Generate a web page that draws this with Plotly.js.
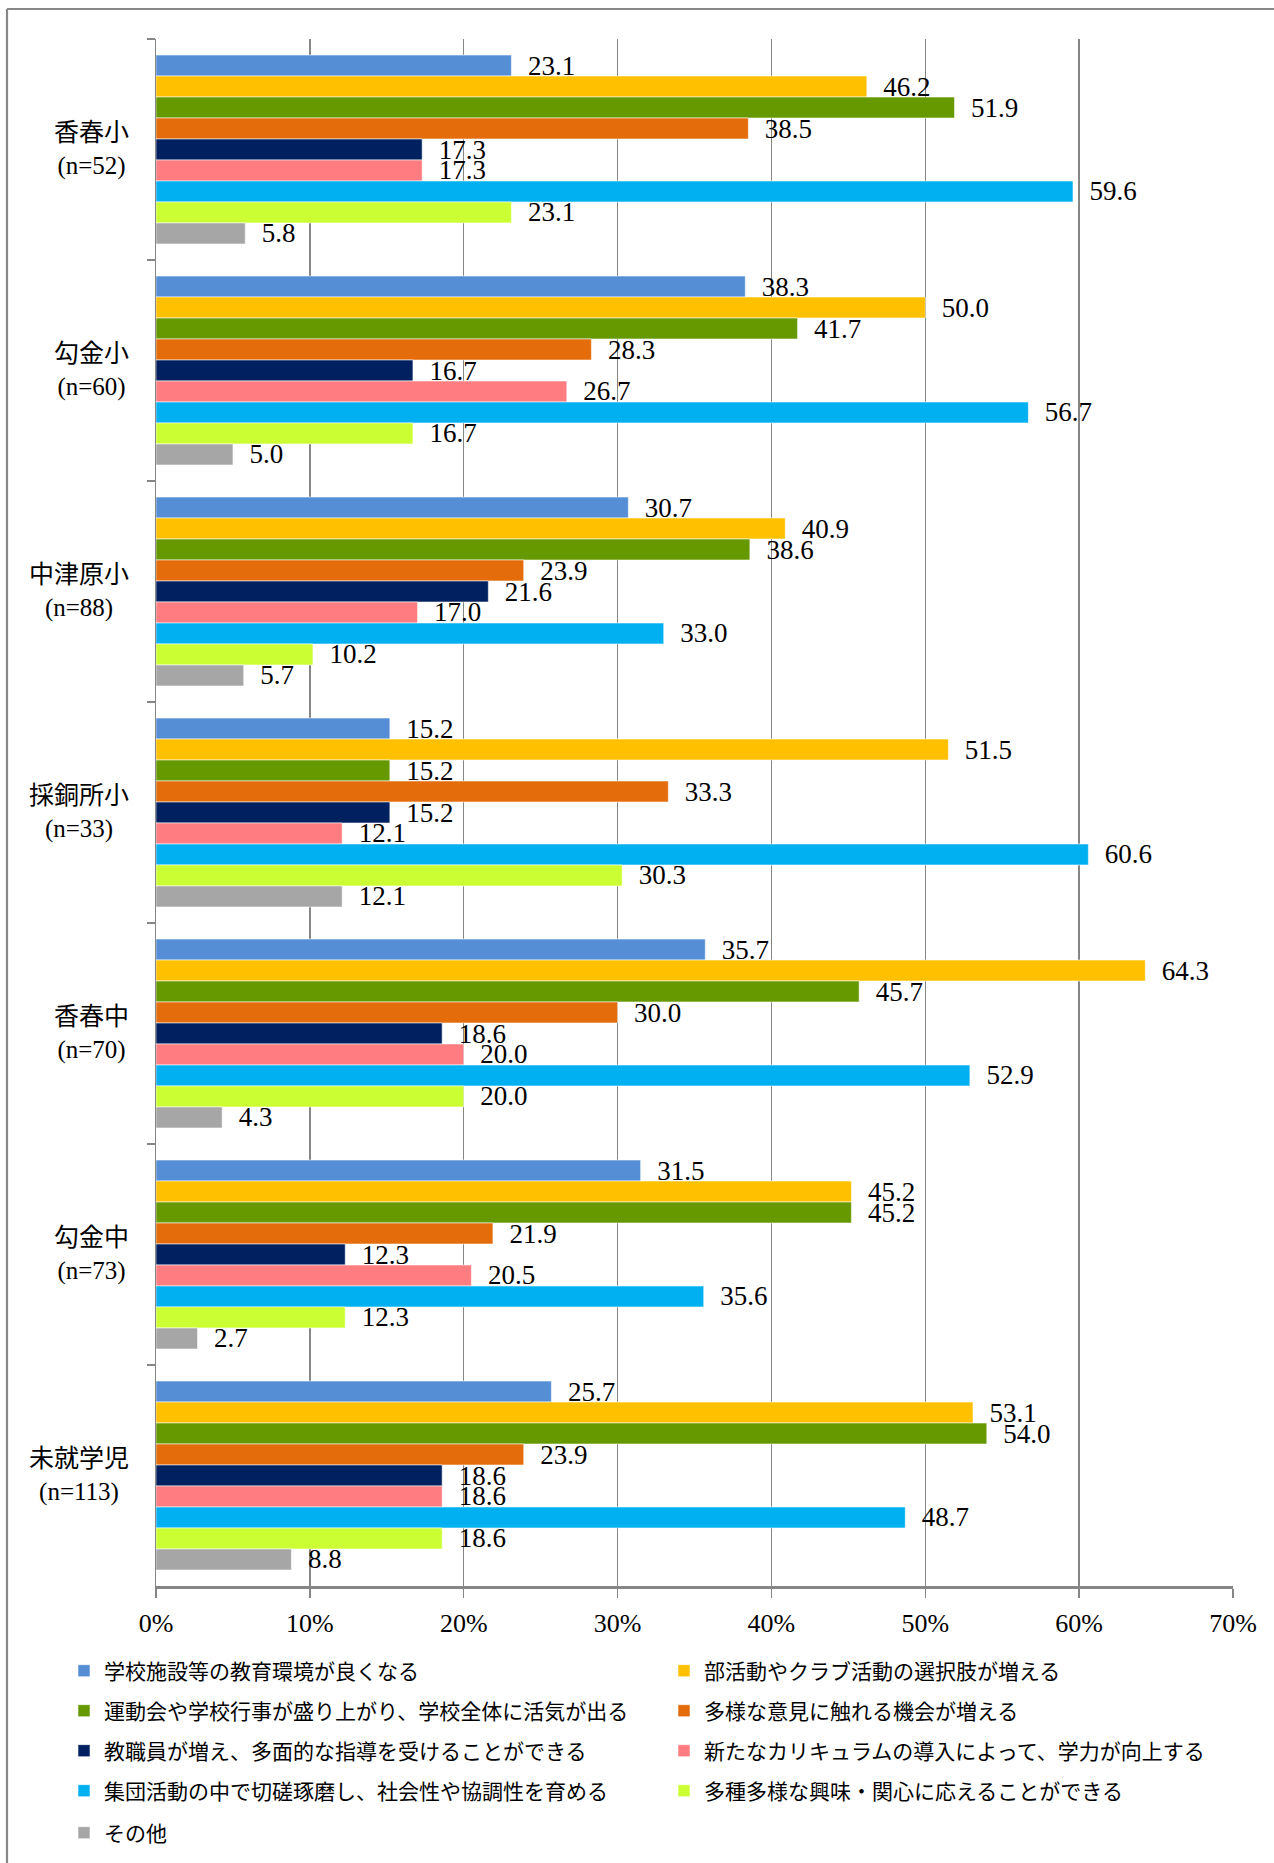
<!DOCTYPE html>
<html><head><meta charset="utf-8">
<script src="https://cdn.plot.ly/plotly-3.0.1.min.js"></script>
<style>html,body{margin:0;padding:0;background:#fff}#chart{width:1274px;height:1863px}</style>
</head><body><div id="chart"></div>
<script>
// ---- data ----
const schools = ['香春小','勾金小','中津原小','採銅所小','香春中','勾金中','未就学児'];
const sampleSizes = ['(n=52)','(n=60)','(n=88)','(n=33)','(n=70)','(n=73)','(n=113)'];
const seriesNames = [
  '学校施設等の教育環境が良くなる',
  '部活動やクラブ活動の選択肢が増える',
  '運動会や学校行事が盛り上がり、学校全体に活気が出る',
  '多様な意見に触れる機会が増える',
  '教職員が増え、多面的な指導を受けることができる',
  '新たなカリキュラムの導入によって、学力が向上する',
  '集団活動の中で切磋琢磨し、社会性や協調性を育める',
  '多種多様な興味・関心に応えることができる',
  'その他'
];
const facilities   = [23.1, 38.3, 30.7, 15.2, 35.7, 31.5, 25.7];
const clubs        = [46.2, 50.0, 40.9, 51.5, 64.3, 45.2, 53.1];
const events       = [51.9, 41.7, 38.6, 15.2, 45.7, 45.2, 54.0];
const opinions     = [38.5, 28.3, 23.9, 33.3, 30.0, 21.9, 23.9];
const staff        = [17.3, 16.7, 21.6, 15.2, 18.6, 12.3, 18.6];
const curriculum   = [17.3, 26.7, 17.0, 12.1, 20.0, 20.5, 18.6];
const groupActs    = [59.6, 56.7, 33.0, 60.6, 52.9, 35.6, 48.7];
const interests    = [23.1, 16.7, 10.2, 30.3, 20.0, 12.3, 18.6];
const others       = [5.8, 5.0, 5.7, 12.1, 4.3, 2.7, 8.8];
const seriesValues = [facilities, clubs, events, opinions, staff, curriculum, groupActs, interests, others];
const seriesColors = ['#558ED5','#FFC000','#669900','#E46C0A','#002060','#FF7C80','#00B0F0','#CCFF33','#A6A6A6'];
const xTicks = [0,10,20,30,40,50,60,70];

// ---- geometry ----
const W = 1274, H = 1863, ML = 156, MR = 41, MT = 39, MB = 277;
const PW = W - ML - MR, PH = H - MT - MB;
const px = x => (x - ML) / PW;
const py = y => (H - MB - y) / PH;

const catKeys = schools.map((s, i) => s + ' ' + sampleSizes[i]);
const serif = 'Liberation Serif, Times New Roman, serif';
const cjk = 'Noto Sans CJK JP, sans-serif';

const traces = seriesValues.map((vals, j) => ({
  type: 'bar',
  orientation: 'h',
  name: seriesNames[j],
  x: vals,
  y: catKeys,
  marker: {color: seriesColors[j], line: {color: 'rgba(255,255,255,0.55)', width: 1}},
  text: vals.map(v => v.toFixed(1)),
  texttemplate: '\u00a0\u00a0%{text}',
  textposition: 'outside',
  constraintext: 'none',
  cliponaxis: false,
  textfont: {family: serif, size: 27, color: '#000'},
  hoverinfo: 'skip',
  legend: j < 2 ? 'legend' : 'legend' + (Math.floor(j / 2) + 1)
}));

const rowY = [1671, 1711, 1751, 1791, 1833];
const legendBase = {
  orientation: 'h', x: px(64), xanchor: 'left', yanchor: 'middle',
  font: {family: cjk, size: 21, color: '#000'},
  entrywidth: 555, entrywidthmode: 'pixels',
  bgcolor: 'rgba(0,0,0,0)', borderwidth: 0, traceorder: 'normal'
};
const layout = {
  width: W, height: H,
  margin: {l: ML, r: MR, t: MT, b: MB, pad: 0, autoexpand: false},
  paper_bgcolor: '#fff', plot_bgcolor: '#fff',
  barmode: 'group', bargap: 0.145, bargroupgap: 0,
  showlegend: true,
  xaxis: {
    range: [0, 70], tickvals: xTicks, ticktext: xTicks.map(v => v + '%'),
    showgrid: true, gridcolor: '#868686', gridwidth: 1.3,
    showline: true, linecolor: '#868686', linewidth: 2.5,
    ticks: 'outside', ticklen: 9, tickcolor: '#868686', tickwidth: 1.3,
    ticklabelstandoff: 3, automargin: false,
    zeroline: false, fixedrange: true,
    tickfont: {family: serif, size: 26, color: '#000'}
  },
  yaxis: {
    type: 'category', categoryorder: 'array', categoryarray: catKeys,
    autorange: 'reversed', showgrid: false, zeroline: false,
    showline: true, linecolor: '#868686', linewidth: 1.5,
    ticks: 'outside', tickson: 'boundaries', ticklen: 8, tickcolor: '#868686', tickwidth: 1.3,
    showticklabels: false, fixedrange: true, automargin: false
  },
  annotations: catKeys.map((k, i) => ({
    xref: 'paper', x: 0, xshift: -25, xanchor: 'right',
    yref: 'y', y: k, yanchor: 'middle',
    text: schools[i] + '<br>' + sampleSizes[i], align: 'center', showarrow: false,
    font: {family: 'Liberation Serif, Noto Sans CJK JP, serif', size: 25, color: '#000'}
  })),
  shapes: [
    {type: 'line', xref: 'paper', yref: 'paper', x0: px(7), x1: px(W + 5), y0: py(9), y1: py(9), line: {color: '#888', width: 2.2}},
    {type: 'line', xref: 'paper', yref: 'paper', x0: px(7), x1: px(7), y0: py(9), y1: py(H + 5), line: {color: '#888', width: 2.2}}
  ]
};
rowY.forEach((y, i) => {
  layout[i === 0 ? 'legend' : 'legend' + (i + 1)] = Object.assign({}, legendBase, {y: py(y)});
});

Plotly.newPlot('chart', traces, layout, {staticPlot: true, displayModeBar: false});
</script></body></html>
